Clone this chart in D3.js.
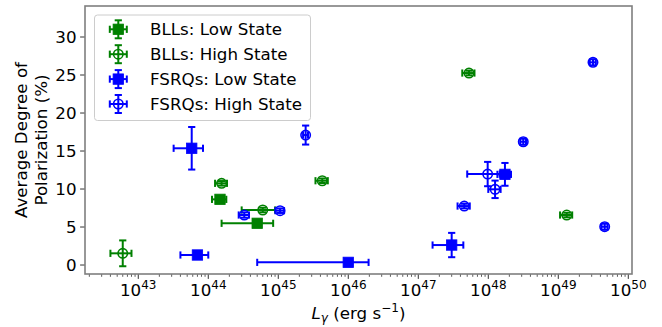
<!DOCTYPE html>
<html><head><meta charset="utf-8">
<script src="https://cdn.jsdelivr.net/npm/d3@7"></script>
<style>body{margin:0;background:#fff}svg{font-family:"DejaVu Sans",sans-serif}</style>
</head><body>
<svg id="c" width="662" height="327"></svg>
<script>
// ---- data ----
const bllLowL = [1.47e44, 5.0e44];
const bllLowP = [8.64, 5.49];
const bllLowLErr = [0.34e44, 3.45e44];
const bllLowPErr = [0.3, 0.3];

const bllHighL = [6.0e42, 1.55e44, 6.0e44, 4.25e45, 5.3e47, 1.32e49];
const bllHighP = [1.54, 10.75, 7.24, 11.09, 25.26, 6.58];
const bllHighLErr = [2.0e42, 0.3e44, 3.0e44, 0.85e45, 1.05e47, 0.26e49];
const bllHighPErr = [1.7, 0.3, 0.3, 0.3, 0.3, 0.3];

const fsrqLowL = [5.8e43, 7.0e43, 1.0e46, 3.0e47, 1.73e48];
const fsrqLowP = [15.36, 1.32, 0.35, 2.63, 11.93];
const fsrqLowLErr = [2.6e43, 3.0e43, 9.5e45, 1.4e47, 0.38e48];
const fsrqLowPErr = [2.8, 0.3, 0.3, 1.6, 1.5];

const fsrqHighL = [3.27e44, 1.06e45, 2.46e45, 4.54e47, 9.8e47, 1.25e48, 3.16e48, 3.13e49, 4.6e49];
const fsrqHighP = [6.58, 7.15, 17.1, 7.76, 11.97, 9.96, 16.22, 26.67, 5.04];
const fsrqHighLErr = [0.55e44, 0.15e45, 0.2e45, 0.9e47, 4.8e47, 0.25e48, 0.3e48, 3.1e48, 4.6e48];
const fsrqHighPErr = [0.35, 0.3, 1.25, 0.3, 1.6, 1.15, 0.4, 0.4, 0.4];

const xTickExps = [43, 44, 45, 46, 47, 48, 49, 50];
const yTicks = [0, 5, 10, 15, 20, 25, 30];
const legendLabels = ["BLLs: Low State", "BLLs: High State", "FSRQs: Low State", "FSRQs: High State"];

// ---- layout ----
const L = 85, R = 632, T = 6, B = 274;
const FS = 16.7, FSS = 12;
const svg = d3.select("#c");
const x = d3.scaleLog().domain([Math.pow(10, 42.239), Math.pow(10, 50.053)]).range([L, R]);
const y = d3.scaleLinear().domain([-1.18, 34.08]).range([B, T]);

const series = [
  {L: bllLowL, P: bllLowP, LE: bllLowLErr, PE: bllLowPErr, color: "green", marker: "square"},
  {L: bllHighL, P: bllHighP, LE: bllHighLErr, PE: bllHighPErr, color: "green", marker: "circle"},
  {L: fsrqLowL, P: fsrqLowP, LE: fsrqLowLErr, PE: fsrqLowPErr, color: "blue", marker: "square"},
  {L: fsrqHighL, P: fsrqHighP, LE: fsrqHighLErr, PE: fsrqHighPErr, color: "blue", marker: "circle"}
];

// axes ticks
const gx = svg.append("g");
const minorVals = [];
for (let e = 42; e <= 50; e++) for (let m = 2; m <= 9; m++) {
  const v = m * Math.pow(10, e);
  if (v > x.domain()[0] && v < x.domain()[1]) minorVals.push(v);
}
gx.selectAll("line.mi").data(minorVals).enter().append("line")
  .attr("x1", d => x(d)).attr("x2", d => x(d)).attr("y1", B).attr("y2", B + 2.8)
  .attr("stroke", "#333").attr("stroke-width", 0.8);
gx.selectAll("line.ma").data(xTickExps).enter().append("line")
  .attr("x1", d => x(Math.pow(10, d))).attr("x2", d => x(Math.pow(10, d))).attr("y1", B).attr("y2", B + 4.9)
  .attr("stroke", "#333").attr("stroke-width", 1);
const xl = gx.selectAll("text.xl").data(xTickExps).enter().append("text")
  .attr("x", d => x(Math.pow(10, d))).attr("y", 295.5).attr("text-anchor", "middle")
  .attr("font-size", FS).attr("fill", "#000");
xl.append("tspan").text("10");
xl.append("tspan").attr("dy", -6.8).attr("font-size", FSS).text(d => d);

const gy = svg.append("g");
gy.selectAll("line").data(yTicks).enter().append("line")
  .attr("x1", L - 4.9).attr("x2", L).attr("y1", d => y(d)).attr("y2", d => y(d))
  .attr("stroke", "#333").attr("stroke-width", 1);
gy.selectAll("text").data(yTicks).enter().append("text")
  .attr("x", L - 8.5).attr("y", d => y(d)).attr("dy", "0.36em").attr("text-anchor", "end")
  .attr("font-size", FS).attr("fill", "#000").text(d => d);

// frame
svg.append("rect").attr("x", L).attr("y", T).attr("width", R - L).attr("height", B - T)
  .attr("fill", "none").attr("stroke", "#7f7f7f").attr("stroke-width", 1.6);

// axis labels
const xlab = svg.append("text").attr("x", (L + R) / 2).attr("y", 318.5).attr("text-anchor", "middle")
  .attr("font-size", FS).attr("fill", "#000");
xlab.append("tspan").attr("font-style", "italic").text("L");
xlab.append("tspan").attr("font-style", "italic").attr("font-size", FSS).attr("dy", 3.5).text("γ");
xlab.append("tspan").attr("dy", -3.5).text(" (erg s");
xlab.append("tspan").attr("font-size", FSS).attr("dy", -6.8).text("−1");
xlab.append("tspan").attr("dy", 6.8).text(")");

const ylab = svg.append("text").attr("transform", `translate(27,${(T + B) / 2}) rotate(-90)`)
  .attr("text-anchor", "middle").attr("font-size", FS).attr("fill", "#000");
ylab.append("tspan").attr("x", 0).attr("y", 0).text("Average Degree of");
ylab.append("tspan").attr("x", 0).attr("y", 19.5).text("Polarization (%)");

// errorbar point drawer
const CAP = 3.6;
function drawPoint(g, cx, cy, xl0, xr0, yt0, yb0, color, marker) {
  g.append("line").attr("x1", xl0).attr("x2", xr0).attr("y1", cy).attr("y2", cy)
    .attr("stroke", color).attr("stroke-width", 2);
  g.append("line").attr("x1", cx).attr("x2", cx).attr("y1", yt0).attr("y2", yb0)
    .attr("stroke", color).attr("stroke-width", 2);
  [xl0, xr0].forEach(xx => g.append("line").attr("x1", xx).attr("x2", xx)
    .attr("y1", cy - CAP).attr("y2", cy + CAP).attr("stroke", color).attr("stroke-width", 2));
  [yt0, yb0].forEach(yy => g.append("line").attr("y1", yy).attr("y2", yy)
    .attr("x1", cx - CAP).attr("x2", cx + CAP).attr("stroke", color).attr("stroke-width", 2));
  if (marker === "square") {
    g.append("rect").attr("x", cx - 5.2).attr("y", cy - 5.2).attr("width", 10.4).attr("height", 10.4)
      .attr("fill", color).attr("stroke", color).attr("stroke-width", 0.8);
  } else {
    g.append("circle").attr("cx", cx).attr("cy", cy).attr("r", 4.7)
      .attr("fill", "none").attr("stroke", color).attr("stroke-width", 1.6);
  }
}

const gp = svg.append("g");
series.forEach(s => {
  s.L.forEach((lv, i) => {
    const g = gp.append("g");
    drawPoint(g, x(lv), y(s.P[i]), x(lv - s.LE[i]), x(lv + s.LE[i]),
      y(s.P[i] + s.PE[i]), y(s.P[i] - s.PE[i]), s.color, s.marker);
  });
});

// legend
const lg = svg.append("g");
lg.append("rect").attr("x", 94.5).attr("y", 15).attr("width", 216).attr("height", 105.5)
  .attr("rx", 3).attr("fill", "#fff").attr("fill-opacity", 0.8).attr("stroke", "#cccccc").attr("stroke-width", 1);
series.forEach((s, i) => {
  const cy = 29.3 + i * 24.9, cx = 118.3;
  const g = lg.append("g");
  drawPoint(g, cx, cy, cx - 8.5, cx + 8.5, cy - 9, cy + 9, s.color, s.marker);
  lg.append("text").attr("x", 150).attr("y", cy).attr("dy", "0.36em").attr("font-size", FS)
    .attr("fill", "#000").text(legendLabels[i]);
});
</script>
</body></html>
